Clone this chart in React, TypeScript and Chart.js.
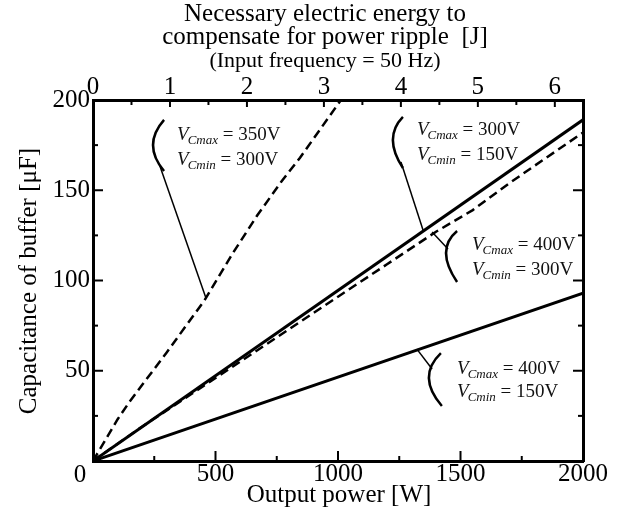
import React, { useEffect, useRef } from 'react';
import { Chart, registerables } from 'chart.js';

Chart.register(...registerables);

// ---- axis tick values ----
const powerTicks = [0, 500, 1000, 1500, 2000];
const powerMinorTicks = [250, 750, 1250, 1750];
const capTicks = [0, 50, 100, 150, 200];
const capMinorTicks = [25, 75, 125, 175];
const energyTicks = [0, 1, 2, 3, 4, 5, 6];
const energyMinorTicks = [0.5, 1.5, 2.5, 3.5, 4.5, 5.5];
const energyAxisMax = 6.366;

// ---- series (Output power [W] -> Capacitance [uF]) ----
const line300_150Power = [0, 2000];
const line300_150Cap = [0, 189];
const line400_150Power = [0, 2000];
const line400_150Cap = [0, 93];
const dash350_300Power = [0, 100, 150, 300, 455, 570, 670, 770, 845, 1012];
const dash350_300Cap = [0, 23, 33, 60, 89, 115, 136, 155, 168, 200];
const dash400_300Power = [0, 200, 400, 600, 800, 1000, 1200, 1400, 1550, 1700, 1850, 2000];
const dash400_300Cap = [0, 19, 37, 55, 73, 91, 109, 127, 139, 154, 168, 182];

const FONT = "'Liberation Serif', 'Times New Roman', serif";

// annotation labels (anchored in data units)
const notes = [
  { v1: ' = 350V', v2: ' = 300V', tP: 343, tC1: 177.8, tC2: 164,
    arc: [[290, 189], [245, 175], [290, 160.7]], lead: [[273, 163.4], [461, 90.3]] },
  { v1: ' = 300V', v2: ' = 150V', tP: 1322, tC1: 180.6, tC2: 166.8,
    arc: [[1265, 190.6], [1224, 177.8], [1265, 162.3]], lead: [[1257, 165.7], [1347, 128]] },
  { v1: ' = 400V', v2: ' = 300V', tP: 1547, tC1: 116.9, tC2: 103,
    arc: [[1486, 127.4], [1441, 115.2], [1486, 99.2]], lead: [[1384, 126.9], [1449, 117.5]] },
  { v1: ' = 400V', v2: ' = 150V', tP: 1486, tC1: 48.2, tC2: 35.5,
    arc: [[1420, 59.8], [1371, 46], [1424, 30.5]], lead: [[1322, 62], [1384, 51]] },
];

const pts = (xs: number[], ys: number[]) => xs.map((x, i) => ({ x, y: ys[i] }));

const decor = {
  id: 'decor',
  afterDraw(chart: any) {
    const ctx: CanvasRenderingContext2D = chart.ctx;
    const xs = chart.scales.x, ys = chart.scales.y, xt = chart.scales.x2;
    const ca = chart.chartArea;
    const px = (v: number) => xs.getPixelForValue(v);
    const py = (v: number) => ys.getPixelForValue(v);
    ctx.save();
    ctx.strokeStyle = '#000';
    ctx.fillStyle = '#000';
    ctx.lineWidth = 2;
    const seg = (a: number, b: number, c: number, d: number) => {
      ctx.beginPath(); ctx.moveTo(a, b); ctx.lineTo(c, d); ctx.stroke();
    };
    const MAJ = 10, MIN = 5;
    powerTicks.forEach(v => { const p = px(v); seg(p, ca.bottom, p, ca.bottom - MAJ); });
    powerMinorTicks.forEach(v => { const p = px(v); seg(p, ca.bottom, p, ca.bottom - MIN); });
    energyTicks.forEach(v => { const p = xt.getPixelForValue(v); seg(p, ca.top, p, ca.top + 7); });
    energyMinorTicks.forEach(v => { const p = xt.getPixelForValue(v); seg(p, ca.top, p, ca.top + MIN); });
    capTicks.forEach(v => { const p = py(v); seg(ca.left, p, ca.left + MAJ, p); seg(ca.right, p, ca.right - MAJ, p); });
    capMinorTicks.forEach(v => { const p = py(v); seg(ca.left, p, ca.left + MIN, p); seg(ca.right, p, ca.right - MIN, p); });

    // origin label
    ctx.font = `25px ${FONT}`;
    ctx.textAlign = 'center';
    ctx.textBaseline = 'alphabetic';
    ctx.fillText('0', px(0) - 13, 482);

    // axis titles
    ctx.fillText('Output power [W]', 339, 502);
    ctx.fillText('Necessary electric energy to', 325, 21);
    ctx.fillText('compensate for power ripple  [J]', 325, 44);
    ctx.font = `22px ${FONT}`;
    ctx.fillText('(Input frequency = 50 Hz)', 325, 67);
    ctx.save();
    ctx.translate(36, 281);
    ctx.rotate(-Math.PI / 2);
    ctx.font = `25px ${FONT}`;
    ctx.fillText('Capacitance of buffer [\u03BCF]', 0, 0);
    ctx.restore();

    // annotations
    const label = (x: number, y: number, sub: string, val: string) => {
      ctx.textAlign = 'left';
      ctx.fillStyle = '#111';
      ctx.font = `italic 19px ${FONT}`;
      ctx.fillText('V', x, y);
      let cx = x + ctx.measureText('V').width - 1;
      ctx.font = `italic 13px ${FONT}`;
      ctx.fillText(sub, cx, y + 4);
      cx += ctx.measureText(sub).width;
      ctx.font = `19px ${FONT}`;
      ctx.fillText(val, cx, y);
    };
    notes.forEach(n => {
      label(px(n.tP), py(n.tC1), 'Cmax', n.v1);
      label(px(n.tP), py(n.tC2), 'Cmin', n.v2);
      const [a, m, b] = n.arc.map(([P, C]) => [px(P), py(C)]);
      const cxp = 2 * m[0] - (a[0] + b[0]) / 2;
      const cyp = 2 * m[1] - (a[1] + b[1]) / 2;
      ctx.lineWidth = 2.5;
      ctx.beginPath();
      ctx.moveTo(a[0], a[1]);
      ctx.quadraticCurveTo(cxp, cyp, b[0], b[1]);
      ctx.stroke();
      ctx.lineWidth = 1.5;
      seg(px(n.lead[0][0]), py(n.lead[0][1]), px(n.lead[1][0]), py(n.lead[1][1]));
    });
    ctx.restore();
  },
};

export default function App() {
  const ref = useRef<HTMLCanvasElement>(null);
  useEffect(() => {
    const tickFont = { family: FONT, size: 25 };
    const solid = { borderColor: '#000', borderWidth: 3, pointRadius: 0, fill: false, tension: 0 };
    const dashed = { ...solid, borderWidth: 2.5, borderDash: [9, 5] };
    const chart = new Chart(ref.current as HTMLCanvasElement, {
      type: 'line',
      data: {
        datasets: [
          { ...solid, data: pts(line300_150Power, line300_150Cap) },
          { ...solid, data: pts(line400_150Power, line400_150Cap) },
          { ...dashed, data: pts(dash350_300Power, dash350_300Cap) },
          { ...dashed, data: pts(dash400_300Power, dash400_300Cap) },
        ] as any,
      },
      options: {
        responsive: false,
        devicePixelRatio: 1,
        animation: false,
        layout: { padding: 0 },
        plugins: { legend: { display: false }, tooltip: { enabled: false } },
        scales: {
          x: {
            type: 'linear', position: 'bottom', min: 0, max: 2000,
            afterBuildTicks: (s: any) => { s.ticks = powerTicks.map(v => ({ value: v })); },
            afterFit: (s: any) => { s.height = 57; },
            grid: { drawOnChartArea: false, drawTicks: false },
            border: { display: true, width: 3, color: '#000' },
            ticks: { font: tickFont, color: '#000', padding: -2, maxRotation: 0, autoSkip: false,
              callback: (v: any) => (v === 0 ? '' : String(v)) },
          },
          x2: {
            type: 'linear', position: 'top', min: 0, max: energyAxisMax,
            afterBuildTicks: (s: any) => { s.ticks = energyTicks.map(v => ({ value: v })); },
            afterFit: (s: any) => { s.height = 100; },
            grid: { drawOnChartArea: false, drawTicks: false },
            border: { display: true, width: 3, color: '#000' },
            ticks: { font: tickFont, color: '#000', padding: -2, maxRotation: 0, autoSkip: false,
              callback: (v: any) => String(v) },
          },
          y: {
            type: 'linear', position: 'left', min: 0, max: 200,
            afterBuildTicks: (s: any) => { s.ticks = capTicks.map(v => ({ value: v })); },
            afterFit: (s: any) => { s.width = 93; },
            grid: { drawOnChartArea: false, drawTicks: false },
            border: { display: true, width: 3, color: '#000' },
            ticks: { font: tickFont, color: '#000', padding: 3, autoSkip: false,
              callback: (v: any) => (v === 0 ? '' : String(v)) },
          },
          y2: {
            type: 'linear', position: 'right', min: 0, max: 200,
            afterFit: (s: any) => { s.width = 42; },
            grid: { drawOnChartArea: false, drawTicks: false },
            border: { display: true, width: 3, color: '#000' },
            ticks: { display: false },
          },
        },
      } as any,
      plugins: [decor],
    });
    return () => chart.destroy();
  }, []);
  return (
    <div style={{ position: 'fixed', left: 0, top: 0, width: 625, height: 518, background: '#fff' }}>
      <canvas ref={ref} width={625} height={518} style={{ display: 'block', width: 625, height: 518 }} />
    </div>
  );
}
